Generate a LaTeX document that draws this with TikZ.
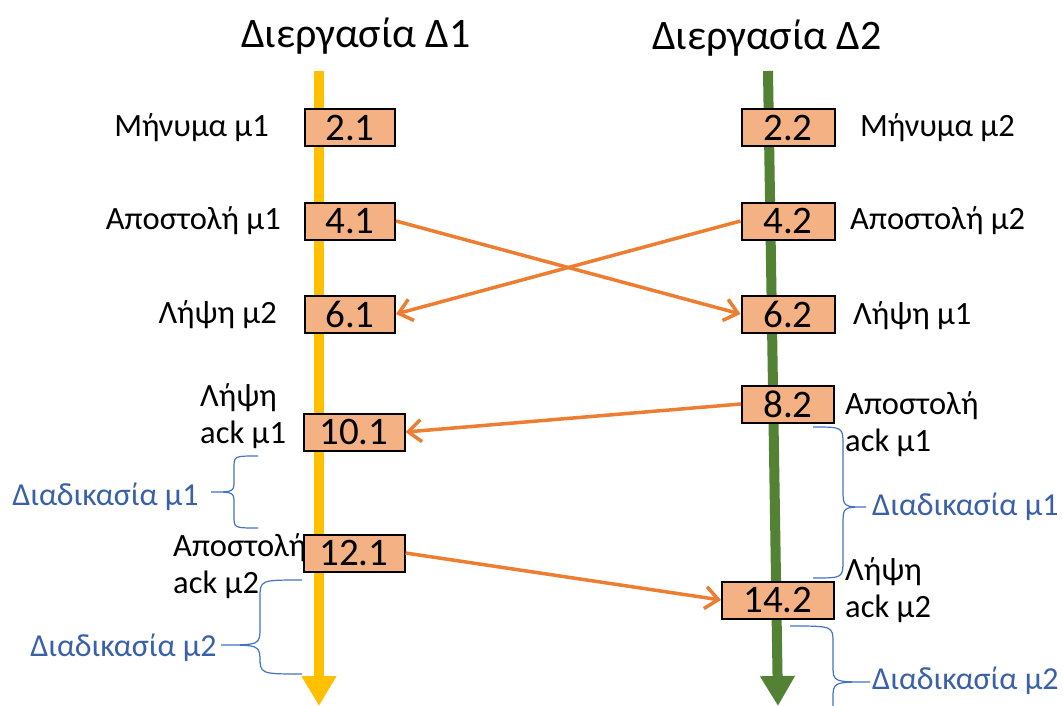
\documentclass[tikz,border=0pt]{standalone}
\usepackage{fontspec}
\setmainfont{Carlito}
\usetikzlibrary{arrows.meta}
\definecolor{lineyel}{HTML}{FFC000}
\definecolor{linegrn}{HTML}{548235}
\definecolor{msgor}{HTML}{ED7D31}
\definecolor{boxfill}{HTML}{F4B183}
\definecolor{brblue}{HTML}{4472C4}
\definecolor{lblblue}{RGB}{58,96,168}
\newcommand\mybrace[7]{% xe, yt, yb, xv, xt, ym, r
  \draw[brc] (#1,#2) .. controls (#4,#2) .. (#4,{#2+#7}) -- (#4,{#6-#7})
    .. controls (#4,#6) .. (#5,#6) .. controls (#4,#6) .. (#4,{#6+#7})
    -- (#4,{#3-#7}) .. controls (#4,#3) .. (#1,#3);}
\tikzset{
  evbox/.style={draw=black, line width=2pt, fill=boxfill, minimum height=37pt,
    inner sep=0pt, font=\fontsize{39}{44}\selectfont},
  lbl/.style={inner sep=0pt, font=\fontsize{32.5}{37}\selectfont},
  lbl2/.style={inner sep=0pt, align=left, font=\fontsize{32.5}{37}\selectfont},
  blbl/.style={inner sep=0pt, text=lblblue, font=\fontsize{32}{36}\selectfont},
  ttl/.style={inner sep=0pt, font=\fontsize{42}{48}\selectfont},
  msg/.style={draw=msgor, line width=3.5pt, -{Straight Barb[length=13pt,width=22pt,line width=3.5pt]}},
  brc/.style={draw=brblue, line width=1.2pt},
}
\begin{document}
\begin{tikzpicture}[x=1pt,y=-1pt]
\useasboundingbox[fill=white] (0,0) rectangle (1063,706);
\begin{scope}
\clip (0,0) rectangle (1063,706);
% titles
\node[ttl] (t1) at (356,36) {Διεργασία Δ1};
\node[ttl] (t2) at (767,38) {Διεργασία Δ2};
% time lines
\coordinate (y1a) at (319,71);
\coordinate (y1b) at (319,706);
\coordinate (g2a) at (768,71);
\coordinate (g2b) at (778,706);
\draw[lineyel, line width=10pt, -{Triangle[length=30pt,width=33pt]}] (y1a) -- (y1b);
\draw[linegrn, line width=10pt, -{Triangle[length=30pt,width=33pt]}] (g2a) -- (g2b);
% event boxes
\node[evbox, minimum width=90pt] (b21) at (350,128) {2.1};
\node[evbox, minimum width=93pt] (b22) at (788,128) {2.2};
\node[evbox, minimum width=90pt] (b41) at (350,221) {4.1};
\node[evbox, minimum width=93pt] (b42) at (788,221) {4.2};
\node[evbox, minimum width=90pt] (b61) at (350,314) {6.1};
\node[evbox, minimum width=93pt] (b62) at (788,314) {6.2};
\node[evbox, minimum width=92pt] (b82) at (788,404) {8.2};
\node[evbox, minimum width=101pt] (b101) at (354,432) {10.1};
\node[evbox, minimum width=101pt] (b121) at (354,553) {12.1};
\node[evbox, minimum width=112pt] (b142) at (778,600) {14.2};
% messages
\draw[msg] (b41.east) -- (b62.west);
\draw[msg] (b42.west) -- (b61.east);
\draw[msg] (b82.west) -- (b101.east);
\draw[msg] (b121.east) -- (b142.west);
% labels
\node[lbl, anchor=east] (l1) at (269,128) {Μήνυμα μ1};
\node[lbl, anchor=east] (l2) at (281,221) {Αποστολή μ1};
\node[lbl, anchor=east] (l3) at (277,315) {Λήψη μ2};
\node[lbl, anchor=west] (r1) at (860,128) {Μήνυμα μ2};
\node[lbl, anchor=west] (r2) at (850,221) {Αποστολή μ2};
\node[lbl, anchor=west] (r3) at (853,316) {Λήψη μ1};
\node[lbl2, anchor=west] (l4) at (200,416) {Λήψη\\ack μ1};
\node[lbl2, anchor=west] (l5) at (173,566) {Αποστολή\\ack μ2};
\node[lbl2, anchor=west] (r4) at (845,424) {Αποστολή\\ack μ1};
\node[lbl2, anchor=west] (r5) at (845,590) {Λήψη\\ack μ2};
% braces
\mybrace{258}{456}{528}{234}{211}{492}{12}
\mybrace{302}{580}{674}{260}{221}{645}{18}
\mybrace{813}{427}{578}{843}{866}{507}{18}
\mybrace{790}{626}{738}{833}{870}{682}{17}
\node[blbl, anchor=east] (p1) at (199,497) {Διαδικασία μ1};
\node[blbl, anchor=east] (p2) at (217,648) {Διαδικασία μ2};
\node[blbl, anchor=west] (p3) at (872,507) {Διαδικασία μ1};
\node[blbl, anchor=west] (p4) at (872,681) {Διαδικασία μ2};
\end{scope}
\end{tikzpicture}
\end{document}
